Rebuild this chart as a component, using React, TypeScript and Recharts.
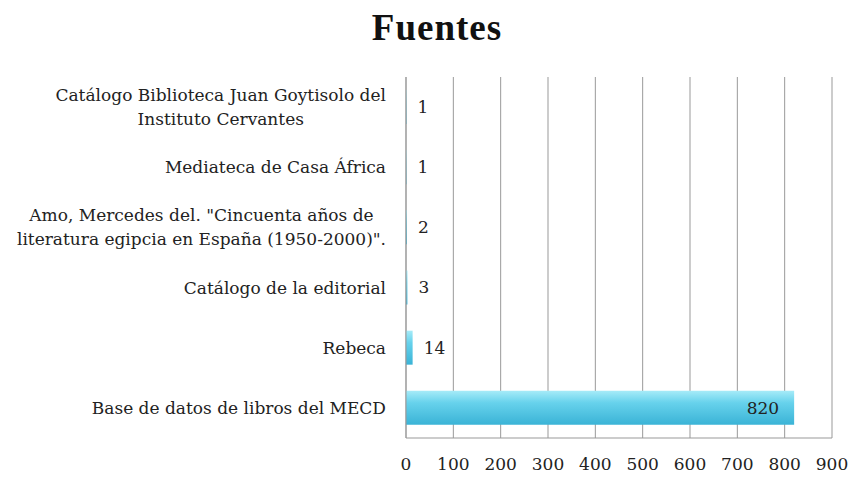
import { BarChart, Bar, XAxis, YAxis, CartesianGrid, LabelList } from "recharts"

const fuentes = [
  ["Catálogo Biblioteca Juan Goytisolo del", "Instituto Cervantes"],
  ["Mediateca de Casa África"],
  ['Amo, Mercedes del. "Cincuenta años de', 'literatura egipcia en España (1950-2000)".'],
  ["Catálogo de la editorial"],
  ["Rebeca"],
  ["Base de datos de libros del MECD"],
]
const valores = [1, 1, 2, 3, 14, 820]
const ticksX = [0, 100, 200, 300, 400, 500, 600, 700, 800, 900]

const data = fuentes.map((lines, i) => ({ name: lines.join(" "), lines, value: valores[i] }))

const FONT = '"DejaVu Serif", serif'
const FS = 17

let ctx: CanvasRenderingContext2D | null = null
function measure(s: string) {
  if (!ctx) ctx = document.createElement("canvas").getContext("2d")
  if (!ctx) return s.length * 8
  ctx.font = `${FS}px ${FONT}`
  return ctx.measureText(s).width
}

function YTick(props: any) {
  const { x, y, payload } = props
  const item = data.find((d) => d.name === payload.value)
  const lines = item ? item.lines : [payload.value]
  const maxW = Math.max(...lines.map(measure))
  const cx = x - 12 - maxW / 2
  const lh = 24
  const y0 = y - ((lines.length - 1) * lh) / 2
  return (
    <text x={cx} y={y0} textAnchor="middle" fill="#222" fontSize={FS} fontFamily={FONT}>
      {lines.map((l: string, i: number) => (
        <tspan key={i} x={cx} y={y0 + i * lh} dy="0.35em">
          {l}
        </tspan>
      ))}
    </text>
  )
}

function ValueLabel(props: any) {
  const { x, y, width, height, value } = props
  const inside = value > 100
  return (
    <text
      x={inside ? x + width - 15 : x + width + 11}
      y={y + height / 2}
      dy="0.35em"
      textAnchor={inside ? "end" : "start"}
      fill="#222"
      fontSize={FS}
      fontFamily={FONT}
    >
      {value}
    </text>
  )
}

export default function App() {
  return (
    <div style={{ position: "absolute", left: 0, top: 0, width: 851, height: 478, background: "#fff" }}>
      <div
        style={{
          position: "absolute",
          top: 6,
          left: 0,
          width: 874,
          textAlign: "center",
          fontFamily: '"Liberation Serif", serif',
          fontWeight: "bold",
          fontSize: 37,
          letterSpacing: 1,
          color: "#111",
        }}
      >
        Fuentes
      </div>
      <BarChart
        width={851}
        height={478}
        data={data}
        layout="vertical"
        margin={{ top: 77, right: 19, left: 0, bottom: 0 }}
        barSize={34}
      >
        <defs>
          <linearGradient id="barFill" x1="0" y1="0" x2="0" y2="1">
            <stop offset="0%" stopColor="#a6ebf8" />
            <stop offset="35%" stopColor="#67d2ec" />
            <stop offset="100%" stopColor="#3ab3d6" />
          </linearGradient>
        </defs>
        <CartesianGrid horizontal={false} stroke="#999" />
        <XAxis
          type="number"
          domain={[0, 900]}
          ticks={ticksX}
          interval={0}
          tickLine={false}
          tickSize={0}
          tickMargin={20}
          stroke="#999"
          height={40}
          tick={{ fill: "#222", fontSize: FS, fontFamily: FONT }}
        />
        <YAxis
          type="category"
          dataKey="name"
          width={406}
          tickLine={false}
          stroke="#999"
          tick={<YTick />}
          interval={0}
        />
        <Bar dataKey="value" fill="url(#barFill)" isAnimationActive={false}>
          <LabelList dataKey="value" content={<ValueLabel />} />
        </Bar>
      </BarChart>
    </div>
  )
}
